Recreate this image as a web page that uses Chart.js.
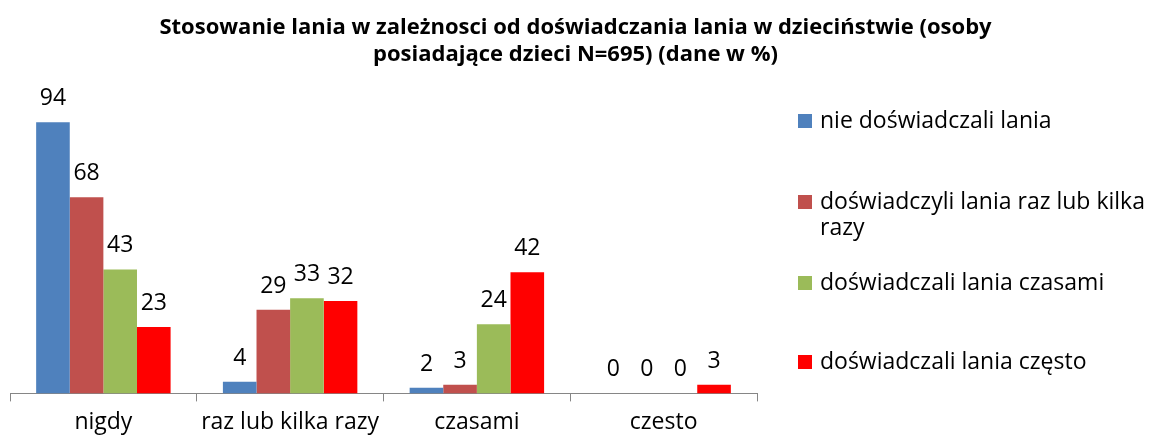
<!DOCTYPE html>
<html>
<head>
<meta charset="utf-8">
<script src="https://cdn.jsdelivr.net/npm/chart.js@4.4.0/dist/chart.umd.min.js"></script>
<style>
  html, body { margin: 0; padding: 0; background: #fff; }
  #wrap { width: 1151px; height: 435px; }
</style>
</head>
<body>
<div id="wrap"><canvas id="chart"></canvas></div>
<script>
// categories on the x axis
const categories = ['nigdy', 'raz lub kilka razy', 'czasami', 'czesto'];

// series (values in %)
const seriesNames = [
  'nie doświadczali lania',
  'doświadczyli lania raz lub kilka razy',
  'doświadczali lania czasami',
  'doświadczali lania często'
];
const neverValues = [94, 4, 2, 0];
const onceValues = [68, 29, 3, 0];
const sometimesValues = [43, 33, 24, 0];
const oftenValues = [23, 32, 42, 3];

const seriesColors = ['#4F81BD', '#C0504D', '#9BBB59', '#FF0000'];

const titleLines = [
  'Stosowanie lania w zależnosci od doświadczania lania w dzieciństwie (osoby',
  'posiadające dzieci N=695) (dane w %)'
];

const FONT = "'Open Sans', 'Liberation Sans', sans-serif";

// title centred over the whole canvas (legend included)
const pageTitle = {
  id: 'pageTitle',
  afterDraw(chart) {
    const ctx = chart.ctx;
    ctx.save();
    ctx.font = 'bold 22px ' + FONT;
    ctx.fillStyle = '#000';
    ctx.textAlign = 'center';
    ctx.textBaseline = 'alphabetic';
    titleLines.forEach((t, i) => {
      ctx.fillText(t, chart.width / 2, 34 + i * 27);
    });
    ctx.restore();
  }
};

// value labels above each bar
const valueLabels = {
  id: 'valueLabels',
  afterDatasetsDraw(chart) {
    const ctx = chart.ctx;
    ctx.save();
    ctx.font = '23px ' + FONT;
    ctx.fillStyle = '#000';
    ctx.textAlign = 'center';
    ctx.textBaseline = 'alphabetic';
    chart.data.datasets.forEach((ds, i) => {
      const meta = chart.getDatasetMeta(i);
      meta.data.forEach((bar, j) => {
        ctx.fillText(String(ds.data[j]), bar.x, bar.y - 17);
      });
    });
    ctx.restore();
  }
};

// legend drawn on the right, with wrapping like the original
const sideLegend = {
  id: 'sideLegend',
  afterDraw(chart) {
    const ctx = chart.ctx;
    const x0 = 798;
    const textX = 820;
    const maxW = chart.width - textX - 2;
    const rows = [121, 202, 283, 362];
    ctx.save();
    ctx.font = '23px ' + FONT;
    ctx.textBaseline = 'middle';
    ctx.textAlign = 'left';
    chart.data.datasets.forEach((ds, i) => {
      const y = rows[i];
      ctx.fillStyle = ds.backgroundColor;
      ctx.fillRect(x0, y - 7, 14, 14);
      ctx.fillStyle = '#000';
      // simple word wrap
      const words = ds.label.split(' ');
      let line = '';
      let ly = y;
      words.forEach((w) => {
        const test = line ? line + ' ' + w : w;
        if (ctx.measureText(test).width > maxW && line) {
          ctx.fillText(line, textX, ly);
          line = w;
          ly += 26;
        } else {
          line = test;
        }
      });
      ctx.fillText(line, textX, ly);
    });
    ctx.restore();
  }
};

const datasetValues = [neverValues, onceValues, sometimesValues, oftenValues];

new Chart(document.getElementById('chart'), {
  type: 'bar',
  data: {
    labels: categories,
    datasets: datasetValues.map((vals, i) => ({
      label: seriesNames[i],
      data: vals,
      backgroundColor: seriesColors[i],
      borderWidth: 0,
      categoryPercentage: 0.72,
      barPercentage: 1.0
    }))
  },
  options: {
    responsive: true,
    maintainAspectRatio: false,
    animation: false,
    layout: { padding: { left: 10, right: 394, top: 105, bottom: -8 } },
    plugins: {
      legend: { display: false },
      tooltip: { enabled: false },
      title: { display: false }
    },
    scales: {
      y: {
        display: false,
        min: 0,
        max: 100
      },
      x: {
        border: { display: true, color: '#868686', width: 1 },
        grid: {
          offset: true,
          drawOnChartArea: false,
          drawTicks: true,
          tickLength: 8,
          color: '#868686'
        },
        ticks: {
          color: '#000',
          padding: 7,
          font: { family: FONT, size: 23 }
        }
      }
    }
  },
  plugins: [pageTitle, valueLabels, sideLegend]
});
</script>
</body>
</html>
